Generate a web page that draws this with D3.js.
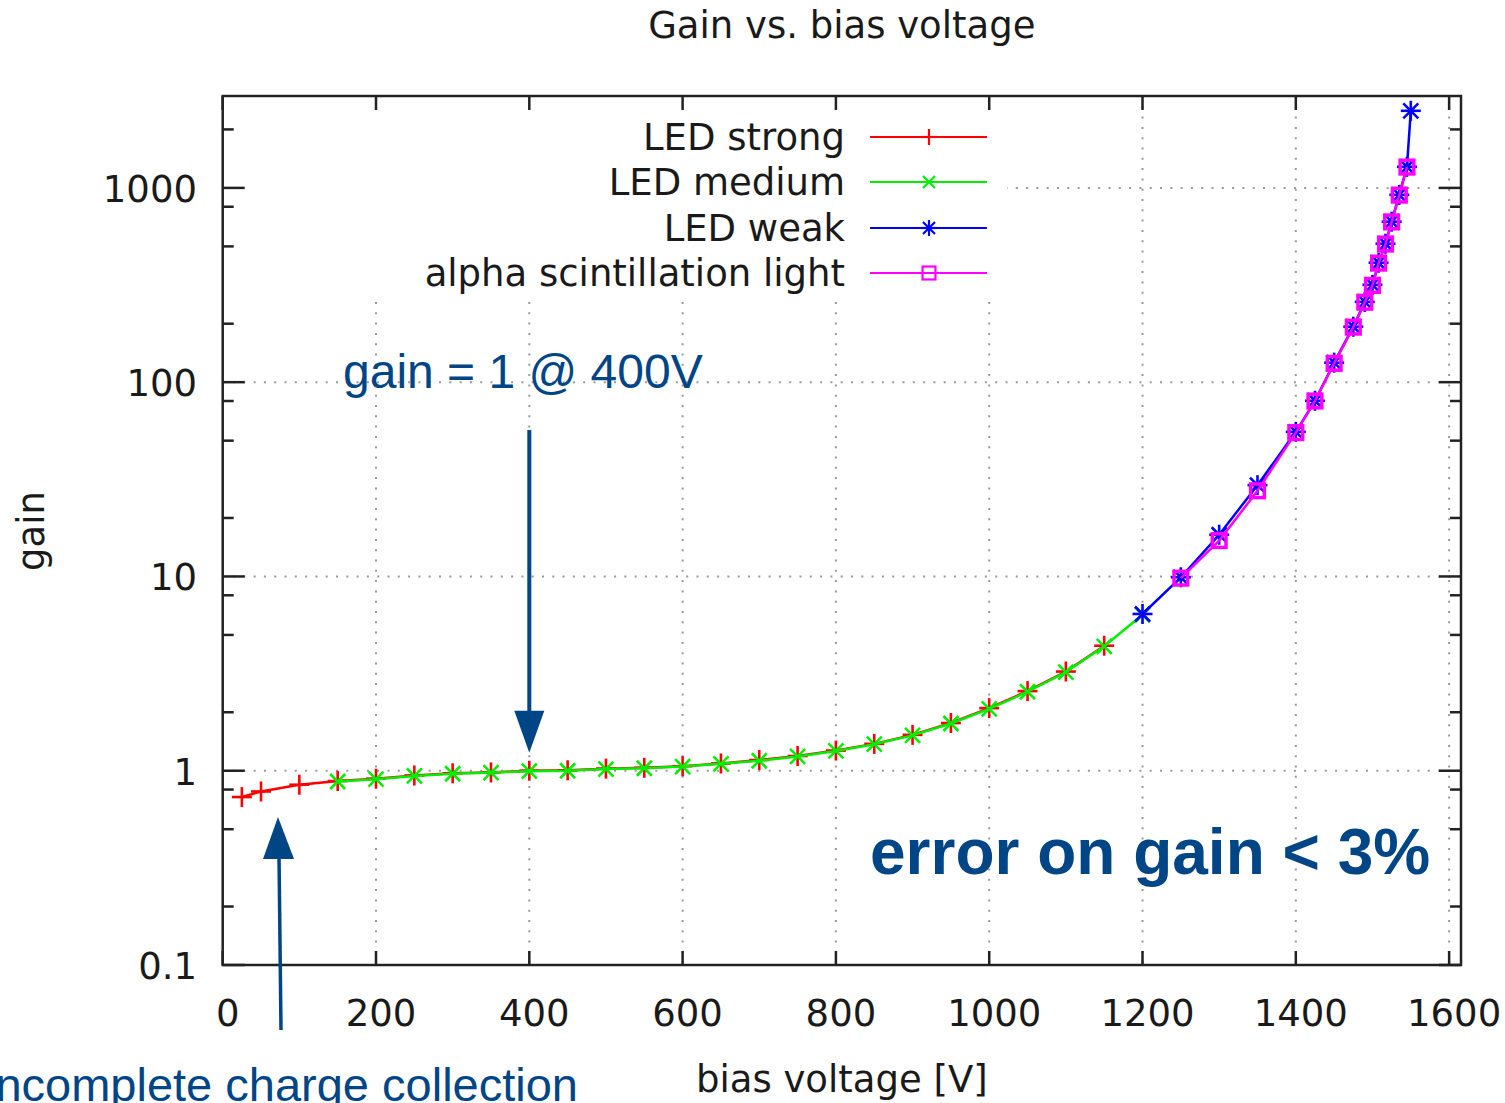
<!DOCTYPE html>
<html>
<head>
<meta charset="utf-8">
<script src="https://cdn.jsdelivr.net/npm/d3@7"></script>
<style>
  html, body { margin: 0; padding: 0; background: #fff; }
  svg { display: block; }
</style>
</head>
<body>
<svg id="chart" width="1505" height="1103"></svg>
<script>
// Gain measurements (bias voltage in V, gain)
const ledStrongV = [25, 50, 100, 150, 200, 250, 300, 350, 400, 450, 500, 550, 600, 650, 700, 750, 800, 850, 900, 950, 1000, 1050, 1100, 1150];
const ledStrongG = [0.732, 0.782, 0.847, 0.885, 0.91, 0.945, 0.97, 0.98, 1.0, 1.005, 1.025, 1.035, 1.055, 1.09, 1.135, 1.19, 1.27, 1.375, 1.53, 1.76, 2.1, 2.57, 3.24, 4.4];

const ledMediumV = [150, 200, 250, 300, 350, 400, 450, 500, 550, 600, 650, 700, 750, 800, 850, 900, 950, 1000, 1050, 1100, 1150, 1200];
const ledMediumG = [0.88, 0.905, 0.94, 0.965, 0.978, 0.995, 1.0, 1.02, 1.03, 1.05, 1.085, 1.125, 1.185, 1.265, 1.37, 1.52, 1.75, 2.08, 2.55, 3.22, 4.37, 6.35];

const ledWeakV = [1200, 1250, 1300, 1350, 1400, 1425, 1450, 1475, 1490, 1500, 1508, 1517, 1525, 1535, 1545, 1550];
const ledWeakG = [6.41, 9.9, 16.4, 29.5, 55.5, 80.2, 126, 193, 259, 317, 412, 516, 670, 921, 1284, 2494];

const alphaV = [1250, 1300, 1350, 1400, 1425, 1450, 1475, 1490, 1500, 1508, 1517, 1525, 1535, 1545];
const alphaG = [9.8, 15.3, 27.6, 55.0, 80.0, 125, 192, 258, 315, 410, 514, 668, 918, 1280];

const seriesNames = ["LED strong", "LED medium", "LED weak", "alpha scintillation light"];
const seriesColors = ["#ff0000", "#00ee00", "#0000ff", "#ff00ff"];
const seriesMarkers = ["plus", "cross", "star", "square"];

const xTickValues = [0, 200, 400, 600, 800, 1000, 1200, 1400, 1600];
const yTickValues = [0.1, 1, 10, 100, 1000];
const yTickLabels = ["0.1", "1", "10", "100", "1000"];
const yMinorValues = [0.2, 0.5, 0.8, 2, 5, 8, 20, 50, 80, 200, 500, 800, 2000];

const titleText = "Gain vs. bias voltage";
const xLabel = "bias voltage [V]";
const yLabel = "gain";

const series = [
  { v: ledStrongV, g: ledStrongG },
  { v: ledMediumV, g: ledMediumG },
  { v: ledWeakV, g: ledWeakG },
  { v: alphaV, g: alphaG }
].map((s, i) => ({
  name: seriesNames[i], color: seriesColors[i], marker: seriesMarkers[i],
  points: s.v.map((v, j) => ({ v, g: s.g[j] }))
}));

const svg = d3.select("#chart");
const plot = { left: 222.7, right: 1461, top: 96, bottom: 965 };

const x = d3.scaleLinear().domain([0, 1615.5]).range([plot.left, plot.right]);
const y = d3.scaleLog().domain([0.1, 2972]).range([plot.bottom, plot.top]);

const axisFont = "'DejaVu Sans', sans-serif";
const axisSize = 37;
const noteFont = "'Liberation Sans', Arial, sans-serif";
const noteColor = "#004586";

// grid
const grid = svg.append("g").attr("stroke", "#999").attr("stroke-width", 2)
  .attr("stroke-dasharray", "2,8.3");
grid.selectAll("line.gx").data(xTickValues.filter(d => d > 0)).join("line")
  .attr("x1", d => x(d)).attr("x2", d => x(d))
  .attr("y1", plot.top).attr("y2", plot.bottom);
grid.selectAll("line.gy").data(yTickValues.filter(d => d > 0.1)).join("line")
  .attr("x1", plot.left).attr("x2", plot.right)
  .attr("y1", d => y(d)).attr("y2", d => y(d));

// opaque key box covering the grid
svg.append("rect").attr("x", plot.left + 1).attr("y", plot.top + 1)
  .attr("width", 1006 - plot.left).attr("height", 296 - plot.top)
  .attr("fill", "#fff");

// border ticks
const ticks = svg.append("g").attr("stroke", "#222").attr("stroke-width", 2.5);
xTickValues.forEach(d => {
  ticks.append("line").attr("x1", x(d)).attr("x2", x(d)).attr("y1", plot.bottom).attr("y2", plot.bottom - 14);
  ticks.append("line").attr("x1", x(d)).attr("x2", x(d)).attr("y1", plot.top).attr("y2", plot.top + 14);
});
yTickValues.forEach(d => {
  ticks.append("line").attr("x1", plot.left).attr("x2", plot.left + 22).attr("y1", y(d)).attr("y2", y(d));
  ticks.append("line").attr("x1", plot.right).attr("x2", plot.right - 22).attr("y1", y(d)).attr("y2", y(d));
});
yMinorValues.forEach(d => {
  ticks.append("line").attr("x1", plot.left).attr("x2", plot.left + 11).attr("y1", y(d)).attr("y2", y(d));
  ticks.append("line").attr("x1", plot.right).attr("x2", plot.right - 11).attr("y1", y(d)).attr("y2", y(d));
});

// tick labels
svg.append("g").selectAll("text").data(xTickValues).join("text")
  .attr("x", d => x(d) + 5).attr("y", 1026)
  .attr("text-anchor", "middle").attr("font-family", axisFont).attr("font-size", axisSize)
  .attr("fill", "#1a1a1a").text(d => d);
svg.append("g").selectAll("text").data(yTickValues).join("text")
  .attr("x", 197).attr("y", d => y(d) + 14)
  .attr("text-anchor", "end").attr("font-family", axisFont).attr("font-size", axisSize)
  .attr("fill", "#1a1a1a").text((d, i) => yTickLabels[i]);

// markers
function drawMarker(g, kind, cx, cy, size) {
  const h = size / 2;
  if (kind === "plus" || kind === "star") {
    g.append("line").attr("x1", cx - h).attr("x2", cx + h).attr("y1", cy).attr("y2", cy);
    g.append("line").attr("x1", cx).attr("x2", cx).attr("y1", cy - h).attr("y2", cy + h);
  }
  if (kind === "cross" || kind === "star") {
    const k = h * 0.75;
    g.append("line").attr("x1", cx - k).attr("x2", cx + k).attr("y1", cy - k).attr("y2", cy + k);
    g.append("line").attr("x1", cx - k).attr("x2", cx + k).attr("y1", cy + k).attr("y2", cy - k);
  }
  if (kind === "square") {
    const s = size * 0.72;
    g.append("rect").attr("x", cx - s / 2).attr("y", cy - s / 2).attr("width", s).attr("height", s)
      .attr("fill", "none");
  }
}

const line = d3.line().x(d => x(d.v)).y(d => y(d.g));

series.forEach(s => {
  const g = svg.append("g");
  g.append("path").datum(s.points).attr("d", line)
    .attr("fill", "none").attr("stroke", s.color).attr("stroke-width", 2.5);
  const mg = g.append("g").attr("stroke", s.color)
    .attr("stroke-width", s.marker === "square" ? 3.5 : 2.6);
  s.points.forEach(p => drawMarker(mg, s.marker, x(p.v), y(p.g), s.marker === "square" ? 19 : 20));
});

// key
const keyRows = [137, 182, 228, 273];
series.forEach((s, i) => {
  const ry = keyRows[i];
  svg.append("text").attr("x", 845).attr("y", ry + 13)
    .attr("text-anchor", "end").attr("font-family", axisFont).attr("font-size", axisSize)
    .attr("fill", "#1a1a1a").text(s.name);
  svg.append("line").attr("x1", 870).attr("x2", 987).attr("y1", ry).attr("y2", ry)
    .attr("stroke", s.color).attr("stroke-width", 2.2);
  const mg = svg.append("g").attr("stroke", s.color).attr("stroke-width", 2.2);
  drawMarker(mg, s.marker, 929, ry, s.marker === "square" ? 18 : 16);
});

// frame
svg.append("rect").attr("x", plot.left).attr("y", plot.top)
  .attr("width", plot.right - plot.left).attr("height", plot.bottom - plot.top)
  .attr("fill", "none").attr("stroke", "#222").attr("stroke-width", 2.5);

// titles
svg.append("text").attr("x", (plot.left + plot.right) / 2).attr("y", 38)
  .attr("text-anchor", "middle").attr("font-family", axisFont).attr("font-size", axisSize)
  .attr("fill", "#1a1a1a").text(titleText);
svg.append("text").attr("x", (plot.left + plot.right) / 2).attr("y", 1092)
  .attr("text-anchor", "middle").attr("font-family", axisFont).attr("font-size", axisSize)
  .attr("fill", "#1a1a1a").text(xLabel);
svg.append("text").attr("transform", "translate(44,531) rotate(-90)")
  .attr("text-anchor", "middle").attr("font-family", axisFont).attr("font-size", axisSize)
  .attr("fill", "#1a1a1a").text(yLabel);

// annotations
const notes = svg.append("g").attr("fill", noteColor).attr("font-family", noteFont);
notes.append("text").attr("x", 343).attr("y", 388).attr("font-size", 48).text("gain = 1 @ 400V");
notes.append("text").attr("x", 870).attr("y", 874).attr("font-size", 64).attr("font-weight", "bold")
  .text("error on gain < 3%");
notes.append("text").attr("x", 578).attr("y", 1101).attr("font-size", 47).attr("text-anchor", "end")
  .text("incomplete charge collection");

// arrows pointing at the curve
const arrow = svg.append("g").attr("fill", noteColor).attr("stroke", noteColor);
const a1x = x(400), a1tip = y(1.0) - 18;
arrow.append("line").attr("x1", a1x).attr("x2", a1x).attr("y1", 430).attr("y2", a1tip - 38)
  .attr("stroke-width", 4);
arrow.append("path").attr("stroke", "none")
  .attr("d", `M${a1x - 15},${a1tip - 42} L${a1x + 15},${a1tip - 42} L${a1x},${a1tip} Z`);
const a2tip = { x: 278, y: 817 };
arrow.append("line").attr("x1", 281).attr("x2", 279).attr("y1", 1030).attr("y2", 855)
  .attr("stroke-width", 3.5);
arrow.append("path").attr("stroke", "none")
  .attr("d", `M${a2tip.x - 15},${a2tip.y + 42} L${a2tip.x + 16},${a2tip.y + 42} L${a2tip.x},${a2tip.y} Z`);
</script>
</body>
</html>
